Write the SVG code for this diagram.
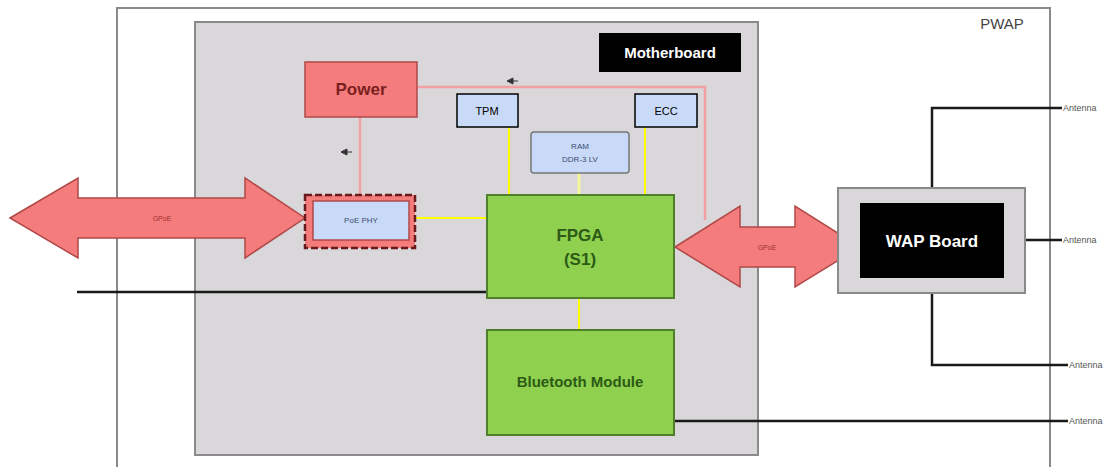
<svg xmlns="http://www.w3.org/2000/svg" width="1120" height="467" viewBox="0 0 1120 467">
<style>
.frame{fill:none;stroke:#8a8a8a;stroke-width:2}
.board{fill:#d9d7d9;stroke:#8a8a8a;stroke-width:2}
.red{fill:#f47c7c;stroke:#b04848;stroke-width:1.5}
.blue{fill:#c9daf8;stroke:#000;stroke-width:1.5}
.green{fill:#8fd14f;stroke:#4f7f2a;stroke-width:2}
.pw{stroke:#f2a0a4;stroke-width:2.5;fill:none}
.yl{stroke:#ffff00;stroke-width:2;fill:none}
.bk{stroke:#1a1a1a;stroke-width:2.5;fill:none}
.t{font-family:"Liberation Sans",Arial,sans-serif;text-anchor:middle;dominant-baseline:central}
.ant{font-family:"Liberation Sans",Arial,sans-serif;font-size:9px;fill:#555}
</style>
<rect width="1120" height="467" fill="#fff"/>
<g id="pwap">
<path class="frame" d="M117,470 V8 H1050 V470"/>
<text class="t" x="1002" y="23" font-size="15" fill="#444">PWAP</text>
</g>
<g id="motherboard">
<rect class="board" x="195" y="22" width="563" height="433"/>
<rect x="599" y="33" width="142" height="39" fill="#000"/>
<text class="t" x="670" y="52" font-size="15" font-weight="bold" fill="#fff">Motherboard</text>
</g>
<g id="connectors">
<path class="pw" d="M417,87 H705 V220"/>
<path class="pw" d="M360,117 V195"/>
<path d="M507,81 l6,-3 v6 z M513,81 h5" fill="#333" stroke="#333" stroke-width="1"/>
<path d="M341,152 l6,-3 v6 z M347,152 h5" fill="#333" stroke="#333" stroke-width="1"/>
<path class="yl" d="M509,127 V195 M645,127 V195 M409,218 H487 M579,298 V330"/>
<path d="M579,173 V195" stroke="#f5f59a" stroke-width="3"/>
<path class="bk" d="M77,292 H487"/>
<path class="bk" d="M674,421 H1068"/>
<path class="bk" d="M932,203 V108 H1062"/>
<path class="bk" d="M1004,240 H1062"/>
<path class="bk" d="M932,278 V365 H1068"/>
</g>
<g id="gpoe-left">
<polygon class="red" points="10,218 78,178 78,198 245,198 245,178 305,218 245,258 245,238 78,238 78,258"/>
<text class="t" x="162" y="218" font-size="7" fill="#a03030">GPoE</text>
</g>
<g id="gpoe-right">
<polygon class="red" points="675,247 740,206 740,227 795,227 795,206 860,247 795,287 795,267 740,267 740,287"/>
<text class="t" x="767" y="247" font-size="7" fill="#a03030">GPoE</text>
</g>
<g id="power">
<rect class="red" x="305" y="62" width="112" height="55"/>
<text class="t" x="361" y="89" font-size="17" font-weight="bold" fill="#7a2020">Power</text>
</g>
<g id="tpm">
<rect class="blue" x="457" y="94" width="61" height="33"/>
<text class="t" x="487" y="111" font-size="11" fill="#000">TPM</text>
</g>
<g id="ecc">
<rect class="blue" x="635" y="94" width="62" height="33"/>
<text class="t" x="666" y="111" font-size="11" fill="#000">ECC</text>
</g>
<g id="ram">
<rect x="531" y="132" width="98" height="41" rx="3" fill="#c9daf8" stroke="#777" stroke-width="1.5"/>
<text class="t" x="580" y="146" font-size="8" fill="#3a4a70">RAM</text>
<text class="t" x="580" y="159" font-size="8" fill="#3a4a70">DDR-3 LV</text>
</g>
<g id="poe-phy">
<rect x="305" y="195" width="110" height="53" fill="#f47c7c" stroke="#6a1a1a" stroke-width="2.5" stroke-dasharray="7,3"/>
<rect x="313" y="201" width="96" height="39" fill="#c9daf8" stroke="#b04848" stroke-width="1.5"/>
<text class="t" x="361" y="220" font-size="8" fill="#3a4a70">PoE PHY</text>
</g>
<g id="fpga">
<rect class="green" x="487" y="195" width="187" height="103"/>
<text class="t" x="580" y="235" font-size="17" font-weight="bold" fill="#2d5a15">FPGA</text>
<text class="t" x="580" y="259" font-size="17" font-weight="bold" fill="#2d5a15">(S1)</text>
</g>
<g id="bluetooth">
<rect class="green" x="487" y="330" width="187" height="105"/>
<text class="t" x="580" y="381" font-size="15" font-weight="bold" fill="#2d5a15">Bluetooth Module</text>
</g>
<g id="wap-board">
<rect x="838" y="188" width="187" height="105" fill="#d9d7d9" stroke="#8a8a8a" stroke-width="2"/>
<rect x="860" y="203" width="144" height="75" fill="#000"/>
<text class="t" x="932" y="241" font-size="17" font-weight="bold" fill="#fff">WAP Board</text>
</g>
<g id="antennas">
<text class="ant" x="1063" y="111">Antenna</text>
<text class="ant" x="1063" y="243">Antenna</text>
<text class="ant" x="1069" y="368">Antenna</text>
<text class="ant" x="1069" y="424">Antenna</text>
</g>
</svg>
